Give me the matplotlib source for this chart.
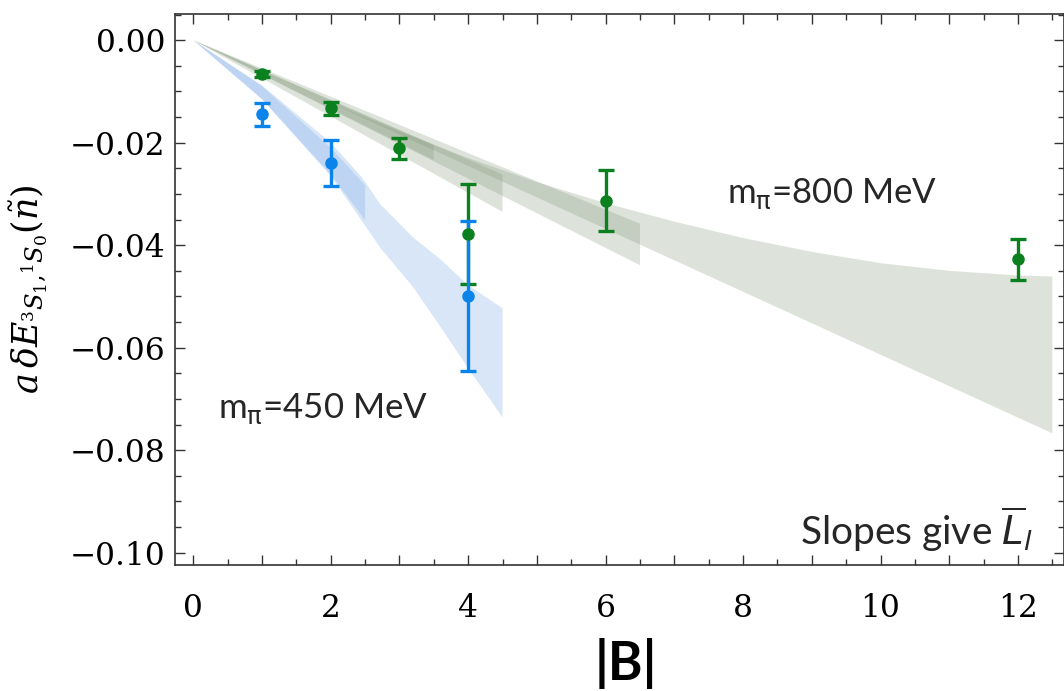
import matplotlib
matplotlib.use("Agg")
import matplotlib.pyplot as plt
from matplotlib.ticker import MultipleLocator, FuncFormatter

# lattice points: |B| and energy shift with errors
B_450 = [1, 2, 4]
dE_450 = [-0.0145, -0.0240, -0.0499]
err_450 = [0.0022, 0.0045, 0.0146]

B_800 = [1, 2, 3, 4, 6, 12]
dE_800 = [-0.0066, -0.0133, -0.0211, -0.0378, -0.0313, -0.0427]
err_800 = [0.0006, 0.0013, 0.0020, 0.0097, 0.0060, 0.0040]

# fit bands: upper edge (x, y) and lower edge (x, y)
bands_450 = [
    ([0, 1, 2, 2.5], [0, -0.0090, -0.0210, -0.0283],
     [0, 1, 2, 2.5], [0, -0.0115, -0.0262, -0.0351]),
    ([0, 1, 2, 2.45, 2.72, 3.2, 3.6, 4.0, 4.5],
     [0, -0.0088, -0.0200, -0.0267, -0.0320, -0.0385, -0.0428, -0.0478, -0.0523],
     [0, 1, 2, 2.45, 2.72, 3.2, 3.6, 4.0, 4.5],
     [0, -0.0115, -0.0265, -0.0352, -0.0405, -0.0482, -0.0560, -0.0640, -0.0736]),
]
bands_800 = [
    ([0, 3.5], [0, -0.0205], [0, 3.5], [0, -0.0234]),
    ([0, 4.5], [0, -0.0262], [0, 4.5], [0, -0.0335]),
    ([0, 6.5], [0, -0.0358], [0, 6.5], [0, -0.0439]),
    ([0, 1, 2, 3, 4, 5, 6, 7, 8, 9, 10, 11, 12, 12.5],
     [0, -0.0062, -0.0122, -0.0178, -0.0230, -0.0277, -0.0318, -0.0354,
      -0.0386, -0.0413, -0.0435, -0.0450, -0.0459, -0.0461],
     [0, 12.5], [0, -0.0767]),
]

blue = "#0a84ea"
green = "#0b801e"

fig = plt.figure(figsize=(10.64, 6.91), dpi=100)
ax = fig.add_axes([0.1645, 0.1823, 0.8355, 0.7974])

for xh, yh, xl, yl in bands_800:
    ax.fill(xh + xl[::-1], yh + yl[::-1], color="#7b9373", alpha=0.25, lw=0)
for xh, yh, xl, yl in bands_450:
    ax.fill(xh + xl[::-1], yh + yl[::-1], color="#6a9fe6", alpha=0.25, lw=0)

ax.errorbar(B_800, dE_800, yerr=err_800, fmt="o", color=green, ms=8,
            elinewidth=2.4, capsize=6, capthick=2.4)
ax.errorbar(B_450, dE_450, yerr=err_450, fmt="o", color=blue, ms=8,
            elinewidth=2.4, capsize=6, capthick=2.4)

ax.set_xlim(-0.266, 12.67)
ax.set_ylim(-0.1024, 0.0051)


def yfmt(v, p):
    s = "%.2f" % v
    if s == "-0.00":
        s = "0.00"
    return s.replace("-", "\u2212")


ax.xaxis.set_major_locator(MultipleLocator(1))
ax.xaxis.set_minor_locator(MultipleLocator(0.5))
ax.xaxis.set_major_formatter(FuncFormatter(lambda v, p: "%d" % v if round(v) % 2 == 0 else ""))
ax.yaxis.set_major_locator(MultipleLocator(0.02))
ax.yaxis.set_minor_locator(MultipleLocator(0.005))
ax.yaxis.set_major_formatter(FuncFormatter(yfmt))

ax.tick_params(which="both", direction="in", top=True, right=True, color="#333333", width=1)
ax.tick_params(which="major", length=7)
ax.tick_params(which="minor", length=4)
ax.tick_params(axis="y", pad=7)
ax.tick_params(axis="x", pad=20)
for lab in ax.get_xticklabels() + ax.get_yticklabels():
    lab.set_family("DejaVu Serif")
    lab.set_fontsize(22.5)
for s in ax.spines.values():
    s.set_linewidth(1.2)
    s.set_color("#333333")

ax.set_ylabel(r"$a\,\delta E_{{}^3S_1{,}{}^1S_0}(\tilde{n})$", fontsize=25,
              math_fontfamily="dejavuserif")
ax.yaxis.set_label_coords(-0.141, 0.5)
ax.set_xlabel("|B|", fontsize=38, fontweight="bold", family="Lato")
ax.xaxis.set_label_coords(0.507, -0.133)

txt = dict(family="Lato", color="#262626", math_fontfamily="dejavusans")
ax.text(7.77, -0.0318, r"m$_{\mathrm{\pi}}$=800 MeV", fontsize=25, **txt)
ax.text(0.36, -0.0738, r"m$_{\mathrm{\pi}}$=450 MeV", fontsize=25, **txt)
ax.text(12.22, -0.0985, r"Slopes give $\overline{L}_{l}$", ha="right", fontsize=28, **txt)

fig.savefig("out.png", dpi=100)
